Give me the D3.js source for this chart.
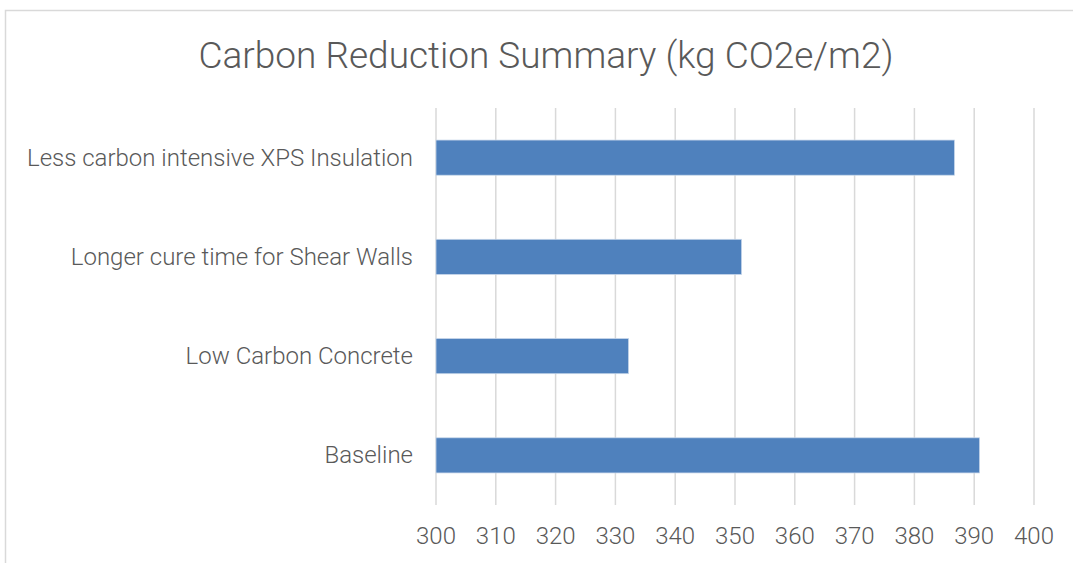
<!DOCTYPE html>
<html>
<head>
<meta charset="utf-8">
<script src="https://cdn.jsdelivr.net/npm/d3@7"></script>
<style>
  body { margin: 0; background: #fff; }
  svg text { font-family: Roboto, "Open Sans", sans-serif; font-weight: 300; fill: #595959; }
</style>
</head>
<body>
<svg id="chart" width="1073" height="563"></svg>
<script>
// chart values, top to bottom as drawn
const categories = ['Less carbon intensive XPS Insulation', 'Longer cure time for Shear Walls', 'Low Carbon Concrete', 'Baseline']
const values = [386.7, 351.1, 332.2, 390.9]
const xTicks = [300, 310, 320, 330, 340, 350, 360, 370, 380, 390, 400]
const title = 'Carbon Reduction Summary (kg CO2e/m2)'

const svg = d3.select('#chart')
const margin = { top: 108, left: 436 }

// outer chart border
svg.append('rect')
  .attr('x', 5.5).attr('y', 10.5)
  .attr('width', 1080).attr('height', 600)
  .attr('fill', 'none')
  .attr('stroke', '#d9d9d9')
  .attr('stroke-width', 1.5)

svg.append('text')
  .attr('x', 546).attr('y', 55)
  .attr('text-anchor', 'middle')
  .attr('dominant-baseline', 'central')
  .style('font-size', '37px')
  .text(title)

const x = d3.scaleLinear().domain([300, 400]).range([0, 598])
const y = d3.scaleBand().domain(categories).range([0, 397]).paddingInner(0.646).paddingOuter(0.323)

const g = svg.append('g').attr('transform', `translate(${margin.left},${margin.top})`)

// vertical gridlines
g.selectAll('line.grid')
  .data(xTicks)
  .join('line')
  .attr('class', 'grid')
  .attr('x1', d => x(d)).attr('x2', d => x(d))
  .attr('y1', 0).attr('y2', 397)
  .attr('stroke', '#d9d9d9')
  .attr('stroke-width', 1.5)

// x tick labels
g.selectAll('text.xtick')
  .data(xTicks)
  .join('text')
  .attr('class', 'xtick')
  .attr('x', d => x(d))
  .attr('y', 428)
  .attr('text-anchor', 'middle')
  .attr('dominant-baseline', 'central')
  .style('font-size', '24px')
  .text(d => d)

// bars
g.selectAll('rect.bar')
  .data(categories)
  .join('rect')
  .attr('class', 'bar')
  .attr('x', x(300))
  .attr('y', d => y(d))
  .attr('width', (d, i) => x(values[i]) - x(300))
  .attr('height', y.bandwidth())
  .attr('fill', '#4f81bd')
  .attr('stroke', '#c6d6ea')
  .attr('stroke-width', 0.75)

// category labels
g.selectAll('text.ytick')
  .data(categories)
  .join('text')
  .attr('class', 'ytick')
  .attr('x', -23)
  .attr('y', d => y(d) + y.bandwidth() / 2)
  .attr('text-anchor', 'end')
  .attr('dominant-baseline', 'central')
  .style('font-size', '24px')
  .text(d => d)
</script>
</body>
</html>
